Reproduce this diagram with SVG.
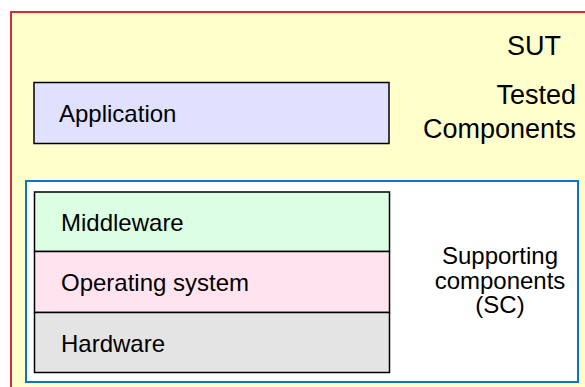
<svg xmlns="http://www.w3.org/2000/svg" width="585" height="387" viewBox="0 0 585 387">
  <style>
    text { font-family: "Liberation Sans", Arial, sans-serif; fill: #000; }
    .lbl { font-size: 24px; }
    .big { font-size: 27px; text-anchor: end; }
    .mid { font-size: 24px; text-anchor: middle; }
    .layer { stroke: #000; stroke-width: 1.5; }
  </style>
  <rect width="585" height="387" fill="#ffffff"/>

  <!-- System under test -->
  <g id="sut">
    <rect x="11" y="12" width="590" height="390" fill="#ffffcc" stroke="#dd2a3a" stroke-width="2"/>
    <text class="big" x="561" y="55">SUT</text>
    <text class="big" x="576" y="104">Tested</text>
    <text class="big" x="576" y="138">Components</text>
  </g>

  <g id="application">
    <rect class="layer" x="34" y="82.5" width="355" height="61" fill="#e0e0ff"/>
    <text class="lbl" x="59" y="122">Application</text>
  </g>

  <!-- Supporting components -->
  <g id="sc">
    <rect x="26" y="181" width="552" height="201" fill="#ffffff" stroke="#0a74c8" stroke-width="2"/>
    <text class="mid" x="500" y="264">Supporting</text>
    <text class="mid" x="500" y="288.5">components</text>
    <text class="mid" x="500" y="313">(SC)</text>
  </g>

  <g id="middleware">
    <rect class="layer" x="34.5" y="192" width="355" height="59.5" fill="#dcffe4"/>
    <text class="lbl" x="61" y="231">Middleware</text>
  </g>

  <g id="os">
    <rect class="layer" x="34.5" y="251.5" width="355" height="61" fill="#ffe4f0"/>
    <text class="lbl" x="61" y="291">Operating system</text>
  </g>

  <g id="hardware">
    <rect class="layer" x="34.5" y="312.5" width="355" height="60" fill="#e4e4e4"/>
    <text class="lbl" x="61" y="352">Hardware</text>
  </g>

  <g id="connectors"/>
</svg>
